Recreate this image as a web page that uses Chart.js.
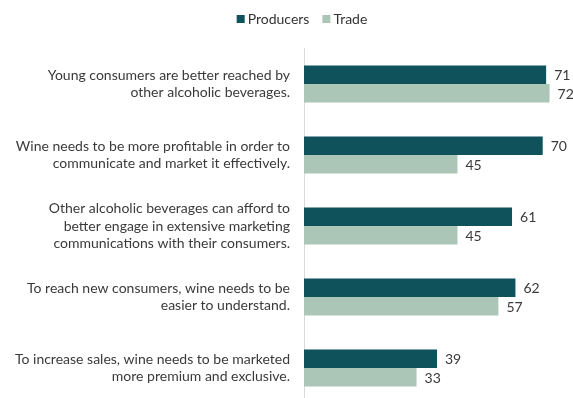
<!DOCTYPE html>
<html>
<head>
<meta charset="utf-8">
<script src="https://cdn.jsdelivr.net/npm/chart.js@4.4.1/dist/chart.umd.min.js"></script>
<style>
  html, body { margin: 0; padding: 0; background: #fff; }
  #frame { width: 573px; height: 398px; overflow: hidden; }
  canvas { display: block; }
</style>
</head>
<body>
<div id="frame"><canvas id="barChart" width="573" height="406"></canvas></div>
<script>
// afirmações e percentuais de concordância
var categorias = [
    ['Young consumers are better reached by', 'other alcoholic beverages.'],
    ['Wine needs to be more profitable in order to', 'communicate and market it effectively.'],
    ['Other alcoholic beverages can afford to', 'better engage in extensive marketing', 'communications with their consumers.'],
    ['To reach new consumers, wine needs to be', 'easier to understand.'],
    ['To increase sales, wine needs to be marketed', 'more premium and exclusive.']
];
var producers = [71, 70, 61, 62, 39];
var trade = [72, 45, 45, 57, 33];

var fonte = 'Lato, "Open Sans", sans-serif';
var corTexto = '#3a3a3a';

// escreve o valor na ponta de cada barra
const rotulosBarras = {
    id: 'rotulosBarras',
    afterDatasetsDraw(chart) {
        const ctx = chart.ctx;
        ctx.save();
        ctx.font = '14px ' + fonte;
        ctx.fillStyle = corTexto;
        ctx.textAlign = 'left';
        ctx.textBaseline = 'middle';
        chart.data.datasets.forEach(function (ds, i) {
            chart.getDatasetMeta(i).data.forEach(function (bar, j) {
                ctx.fillText(ds.data[j], bar.x + 8, bar.y + 1);
            });
        });
        ctx.restore();
    }
};

// legenda no topo, centrada um pouco à direita do meio
const legendaTopo = {
    id: 'legendaTopo',
    afterDraw(chart) {
        const ctx = chart.ctx;
        ctx.save();
        ctx.font = '14px ' + fonte;
        ctx.textBaseline = 'middle';
        const caixa = 8, vao = 3, entre = 13, y = 19;
        const itens = chart.data.datasets.map(function (ds) {
            return { texto: ds.label, cor: ds.backgroundColor, w: ctx.measureText(ds.label).width };
        });
        let total = 0;
        itens.forEach(function (it, i) { total += caixa + vao + it.w + (i > 0 ? entre : 0); });
        let x = 302 - total / 2;
        itens.forEach(function (it) {
            ctx.fillStyle = it.cor;
            ctx.fillRect(x, y - caixa / 2, caixa, caixa);
            ctx.fillStyle = '#333';
            ctx.fillText(it.texto, x + caixa + vao, y);
            x += caixa + vao + it.w + entre;
        });
        ctx.restore();
    }
};

function plotar_grafico() {
    const data_quiz = {
        labels: categorias,
        datasets: [{
            label: 'Producers',
            data: producers,
            backgroundColor: '#0f525c',
            categoryPercentage: 0.52,
            barPercentage: 1
        }, {
            label: 'Trade',
            data: trade,
            backgroundColor: '#abc6b6',
            categoryPercentage: 0.52,
            barPercentage: 1
        }]
    };

    const config = {
        type: 'bar',
        data: data_quiz,
        plugins: [rotulosBarras, legendaTopo],
        options: {
            indexAxis: 'y',
            responsive: false,
            animation: false,
            layout: { padding: { top: 48.5, right: 3, left: 0, bottom: 2.5 } },
            plugins: {
                tooltip: { enabled: false },
                legend: { display: false }
            },
            scales: {
                x: {
                    display: false,
                    min: 0,
                    max: 78
                },
                y: {
                    afterFit: function (scale) {
                        scale.width = 304;
                        scale.paddingTop = 0;
                        scale.paddingBottom = 0;
                    },
                    grid: { display: false, drawTicks: false },
                    border: { display: true, color: '#d9d9d9', width: 1 },
                    ticks: {
                        padding: 14,
                        color: corTexto,
                        font: { family: fonte, size: 14, lineHeight: 1.22 }
                    }
                }
            }
        }
    };

    const ctx = document.getElementById('barChart').getContext('2d');
    const grafico = new Chart(ctx, config);
}

window.addEventListener('load', plotar_grafico);
</script>
</body>
</html>
